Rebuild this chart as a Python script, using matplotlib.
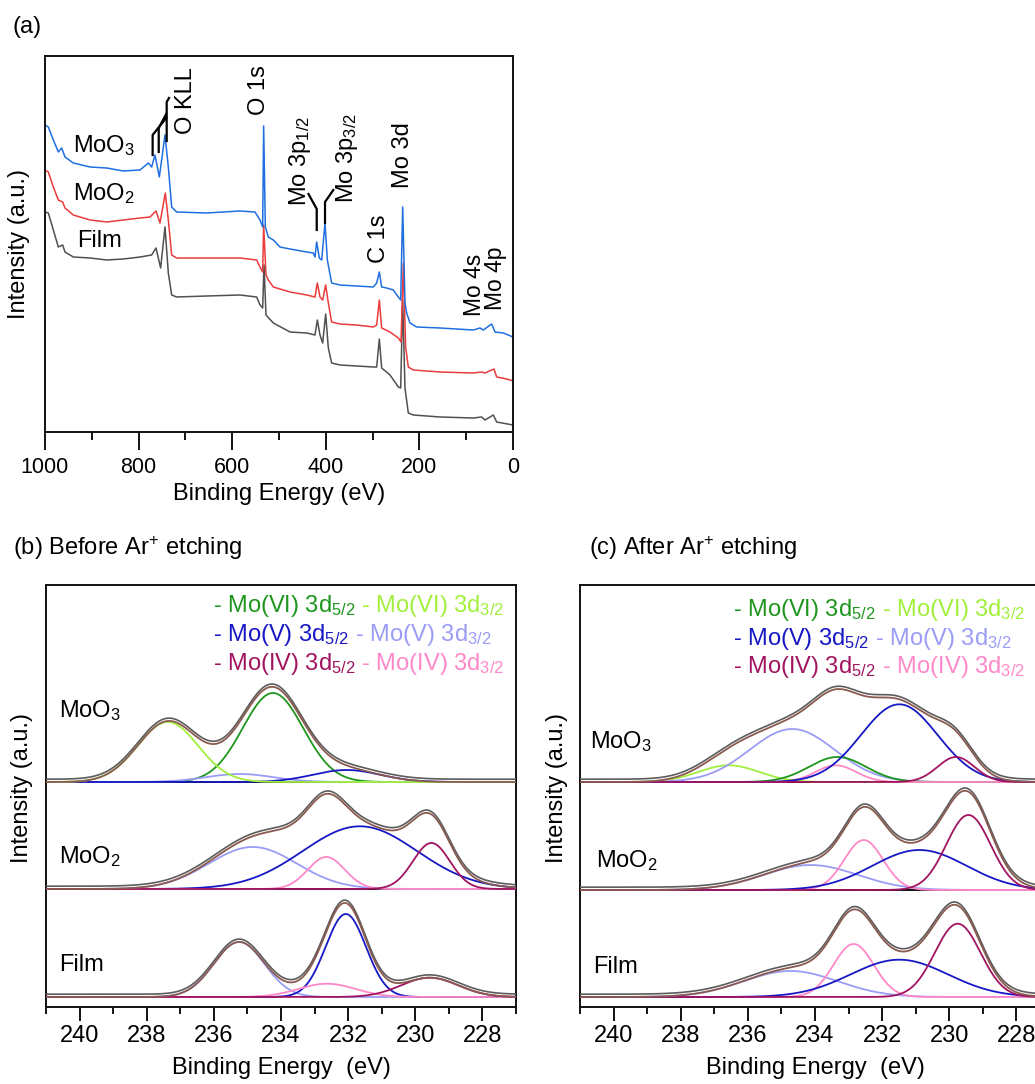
import numpy as np
import matplotlib
matplotlib.use('Agg')
import matplotlib.pyplot as plt
from matplotlib.ticker import MultipleLocator

plt.rcParams['font.family'] = ['Liberation Sans', 'DejaVu Sans']
plt.rcParams['mathtext.fontset'] = 'custom'
plt.rcParams['mathtext.rm'] = 'Liberation Sans'
plt.rcParams['mathtext.it'] = 'Liberation Sans:italic'
plt.rcParams['mathtext.bf'] = 'Liberation Sans:bold'

# ---------------- (a) survey spectra ----------------
survey_e_moo3 = [1000, 992.9, 982.2, 971.5, 964.4, 957.3, 939.5, 903.8, 868.2, 832.6,
                 797.0, 779.2, 772.1, 765.0, 755.7, 743.6, 736.5, 729.3, 718.7, 654.6,
                 583.3, 551.3, 540.6, 534.9, 532.8, 529.2, 522.8, 512.1, 497.9, 476.5,
                 440.9, 426.7, 423.1, 419.5, 413.8, 408.8, 401.7, 396.7, 387.5, 369.7,
                 334.0, 298.4, 291.3, 285.6, 280.6, 269.9, 255.7, 245.0, 240.0, 235.7,
                 230.8, 227.2, 220.1, 205.9, 156.0, 84.8, 70.5, 63.4, 45.6, 38.5,
                 20.7, 0]
survey_i_moo3 = [3.07, 3.05, 2.92, 2.80, 2.84, 2.75, 2.69, 2.65, 2.64, 2.61,
                 2.62, 2.69, 2.65, 2.77, 2.55, 2.97, 2.65, 2.25, 2.20, 2.19,
                 2.21, 2.20, 2.12, 2.05, 3.06, 2.05, 1.95, 1.92, 1.85, 1.83,
                 1.80, 1.79, 1.75, 1.90, 1.74, 1.72, 2.09, 1.72, 1.49, 1.47,
                 1.46, 1.45, 1.49, 1.60, 1.45, 1.44, 1.42, 1.35, 1.32, 2.25,
                 1.29, 1.19, 1.09, 1.05, 1.04, 1.02, 1.04, 1.02, 1.08, 1.00,
                 0.99, 0.95]

survey_e_moo2 = [1000, 992.9, 982.2, 971.5, 962.2, 957.3, 939.5, 903.8, 868.2, 832.6,
                 797.0, 775.6, 762.8, 754.3, 742.9, 736.5, 729.3, 718.7, 654.6, 583.3,
                 547.7, 540.6, 534.9, 532.8, 527.8, 522.8, 512.1, 476.5, 440.9, 423.1,
                 418.1, 412.4, 406.7, 400.3, 394.6, 387.5, 369.7, 334.0, 298.4, 291.3,
                 285.6, 280.6, 262.8, 245.0, 239.3, 234.3, 229.4, 223.7, 213.0, 156.0,
                 84.8, 67.0, 59.8, 40.6, 34.9, 13.5, 0]
survey_i_moo2 = [2.62, 2.60, 2.45, 2.32, 2.30, 2.24, 2.17, 2.12, 2.10, 2.12,
                 2.14, 2.15, 2.21, 2.09, 2.39, 2.12, 1.77, 1.74, 1.74, 1.74,
                 1.72, 1.65, 1.60, 2.07, 1.57, 1.52, 1.45, 1.40, 1.37, 1.35,
                 1.49, 1.35, 1.32, 1.47, 1.29, 1.10, 1.08, 1.07, 1.05, 1.07,
                 1.32, 1.04, 1.00, 0.94, 0.90, 1.69, 0.85, 0.65, 0.62, 0.60,
                 0.59, 0.60, 0.59, 0.63, 0.55, 0.53, 0.51]

survey_e_film = [1000, 992.9, 982.2, 971.5, 962.2, 957.3, 939.5, 903.8, 868.2, 832.6,
                 797.0, 772.1, 762.8, 752.9, 743.6, 736.5, 729.3, 718.7, 654.6, 583.3,
                 547.7, 540.6, 534.9, 532.0, 527.8, 512.1, 476.5, 440.9, 423.1, 418.1,
                 412.4, 406.7, 400.3, 394.6, 387.5, 369.7, 298.4, 291.3, 285.6, 280.6,
                 262.8, 245.0, 240.0, 235.7, 230.8, 223.7, 213.0, 156.0, 84.8, 67.0,
                 59.8, 42.0, 34.9, 0]
survey_i_film = [2.20, 2.19, 2.02, 1.85, 1.87, 1.80, 1.75, 1.74, 1.72, 1.73,
                 1.75, 1.77, 1.84, 1.64, 2.05, 1.59, 1.37, 1.35, 1.36, 1.37,
                 1.35, 1.27, 1.24, 1.67, 1.17, 1.09, 1.00, 0.99, 0.97, 1.12,
                 0.97, 0.89, 1.18, 0.84, 0.69, 0.67, 0.65, 0.65, 0.93, 0.64,
                 0.57, 0.45, 0.44, 1.32, 0.44, 0.19, 0.17, 0.15, 0.14, 0.15,
                 0.12, 0.17, 0.10, 0.07]

survey_labels = ['Film', 'MoO$_2$', 'MoO$_3$']

# ---------------- (b)/(c) Mo 3d fitted components ----------------
# component keys: VI52, VI32, V52, V32, IV52, IV32
before_moo3_comp = ['VI52', 'V32', 'V52', 'VI32']
before_moo3_center = [234.24, 235.23, 232.05, 237.37]
before_moo3_height = [0.89, 0.08, 0.12, 0.60]
before_moo3_sigma = [0.90, 1.00, 1.00, 0.90]

before_moo2_comp = ['V32', 'V52', 'IV32', 'IV52']
before_moo2_center = [234.84, 231.65, 232.65, 229.52]
before_moo2_height = [0.42, 0.627, 0.32, 0.46]
before_moo2_sigma = [1.31, 1.70, 0.55, 0.55]

before_film_comp = ['V32', 'V52', 'IV32', 'IV52']
before_film_center = [235.25, 232.07, 232.63, 229.57]
before_film_height = [0.55, 0.83, 0.133, 0.193]
before_film_sigma = [0.75, 0.60, 0.85, 0.85]

after_moo3_comp = ['VI32', 'V32', 'VI52', 'IV32', 'V52', 'IV52']
after_moo3_center = [236.57, 234.68, 233.33, 233.38, 231.49, 229.80]
after_moo3_height = [0.167, 0.53, 0.25, 0.167, 0.777, 0.25]
after_moo3_sigma = [0.90, 1.27, 0.85, 0.60, 1.14, 0.55]

after_moo2_comp = ['V32', 'IV32', 'V52', 'IV52']
after_moo2_center = [234.13, 232.55, 230.89, 229.43]
after_moo2_height = [0.25, 0.50, 0.40, 0.75]
after_moo2_sigma = [1.40, 0.58, 1.40, 0.66]

after_film_comp = ['V32', 'IV32', 'V52', 'IV52']
after_film_center = [234.73, 232.85, 231.49, 229.75]
after_film_height = [0.26, 0.53, 0.373, 0.733]
after_film_sigma = [1.40, 0.60, 1.45, 0.68]

sample_names = ['MoO$_3$', 'MoO$_2$', 'Film']
legend_left = ['- Mo(VI) 3d$_{5/2}$', '- Mo(V) 3d$_{5/2}$', '- Mo(IV) 3d$_{5/2}$']
legend_right = [' - Mo(VI) 3d$_{3/2}$', ' - Mo(V) 3d$_{3/2}$', ' - Mo(IV) 3d$_{3/2}$']

comp_colors = {'VI52': '#1e961e', 'VI32': '#a0f03c', 'V52': '#1717c4',
               'V32': '#9a9cf6', 'IV52': '#a01460', 'IV32': '#ff88c8'}
legend_left_keys = ['VI52', 'V52', 'IV52']
legend_right_keys = ['VI32', 'V32', 'IV32']

W, H = 1035, 1084
fig = plt.figure(figsize=(W / 100, H / 100), dpi=100)

FS = 17
SPINE_W = 1.4


def style_box(ax):
    for s in ax.spines.values():
        s.set_linewidth(SPINE_W)
        s.set_color('#111111')


# ---------------- panel (a) ----------------
axa = fig.add_axes([45 / W, 1 - 432 / H, 468 / W, 376 / H])
axa.plot(survey_e_film, survey_i_film, color='#505050', lw=1.1)
axa.plot(survey_e_moo2, survey_i_moo2, color='#ea3c3c', lw=1.1)
axa.plot(survey_e_moo3, survey_i_moo3, color='#1f6fe0', lw=1.1)
axa.set_xlim(1000, 0)
axa.set_ylim(0, 3.76)
axa.set_yticks([])
axa.xaxis.set_major_locator(MultipleLocator(200))
axa.xaxis.set_minor_locator(MultipleLocator(100))
axa.tick_params(axis='x', which='major', direction='out', length=13, width=1.3,
                labelsize=15.5, pad=5)
axa.tick_params(axis='x', which='minor', direction='out', length=6, width=1.3)
style_box(axa)
axa.set_xlabel('Binding Energy (eV)', fontsize=FS)
axa.xaxis.set_label_coords(0.5, -0.165)
axa.xaxis.label.set_va('center')
axa.set_ylabel('Intensity (a.u.)', fontsize=FS)
axa.yaxis.set_label_coords(-0.055, 0.5)
axa.yaxis.label.set_va('center')

axa.text(939.5, 2.80, survey_labels[2], fontsize=FS, va='baseline', ha='left')
axa.text(939.5, 2.32, survey_labels[1], fontsize=FS, va='baseline', ha='left')
axa.text(932.3, 1.85, survey_labels[0], fontsize=FS, va='baseline', ha='left')

# O KLL bracket
lk = dict(color='black', lw=1.6, solid_joinstyle='miter')
axa.plot([770, 770, 741], [2.77, 2.97, 3.14], **lk)
axa.plot([757, 757, 741], [2.80, 3.04, 3.18], **lk)
axa.plot([740, 740, 735], [2.91, 3.30, 3.34], **lk)
# Mo 3p brackets
axa.plot([419.4, 419.4, 437.0], [2.02, 2.23, 2.38], **lk)
axa.plot([401.7, 401.7, 383.9], [2.09, 2.30, 2.42], **lk)

ann = dict(fontsize=FS, rotation=90, ha='center', va='bottom', rotation_mode='default')
axa.text(698.7, 2.98, 'O KLL', **ann)
axa.text(542.7, 3.17, 'O 1s', **ann)
axa.text(456.0, 2.26, 'Mo 3p$_{1/2}$', **ann)
axa.text(354.7, 2.29, 'Mo 3p$_{3/2}$', **ann)
axa.text(286.3, 1.69, 'C 1s', **ann)
axa.text(236.1, 2.44, 'Mo 3d', **ann)
axa.text(83.0, 1.16, 'Mo 4s', fontsize=16.5, rotation=90, ha='center', va='bottom')
axa.text(37.0, 1.22, 'Mo 4p', fontsize=16.5, rotation=90, ha='center', va='bottom')

fig.text(13 / W, 1 - 33 / H, '(a)', fontsize=FS, va='baseline', ha='left')
fig.text(13 / W, 1 - 555 / H, '(b) Before Ar$^{+}$ etching', fontsize=FS,
         va='baseline', ha='left')
fig.text(589 / W, 1 - 555 / H, '(c) After Ar$^{+}$ etching', fontsize=FS,
         va='baseline', ha='left')

# ---------------- panels (b) and (c) ----------------
E = np.linspace(241, 227, 700)


def gauss(x, c, h, s):
    return h * np.exp(-(x - c) ** 2 / (2 * s ** 2))


def draw_sample(ax, comps, centers, heights, sigmas, base):
    env = np.zeros_like(E)
    for k, c, h, s in zip(comps, centers, heights, sigmas):
        env += gauss(E, c, h, s)
    for k, c, h, s in zip(comps, centers, heights, sigmas):
        ax.plot(E, base + gauss(E, c, h, s), color=comp_colors[k], lw=1.3, zorder=3)
    ax.plot(E, base + env + 0.028, color='#5c5c5c', lw=1.2, zorder=4)
    ax.plot(E, base + env, color='#8a5a50', lw=1.3, zorder=5)


def setup_xps_axis(ax, seps):
    ax.set_xlim(241, 227)
    ax.set_ylim(0, 4.22)
    ax.set_yticks([])
    ax.xaxis.set_major_locator(MultipleLocator(2))
    ax.xaxis.set_minor_locator(MultipleLocator(1))
    ax.tick_params(axis='x', which='major', direction='out', length=10, width=1.3,
                   labelsize=FS, pad=3)
    ax.tick_params(axis='x', which='minor', direction='out', length=5, width=1.3)
    style_box(ax)
    for y in seps:
        ax.axhline(y, color='#111111', lw=SPINE_W, zorder=2)
    ax.set_xlabel('Binding Energy  (eV)', fontsize=FS)
    ax.xaxis.set_label_coords(0.5, -0.145)
    ax.xaxis.label.set_va('center')
    ax.set_ylabel('Intensity (a.u.)', fontsize=FS)
    ax.yaxis.label.set_va('center')


def draw_legend(ax, x0, ys):
    for i in range(3):
        t1 = ax.text(x0, ys[i], legend_left[i], fontsize=FS,
                     color=comp_colors[legend_left_keys[i]],
                     ha='left', va='bottom', zorder=6)
        ax.annotate(legend_right[i], xy=(1, 0), xycoords=t1, fontsize=FS,
                    color=comp_colors[legend_right_keys[i]], ha='left', va='bottom', zorder=6)


axb = fig.add_axes([46 / W, 1 - 1007 / H, 470 / W, 422 / H])
setup_xps_axis(axb, [1.18, 2.25])
axb.yaxis.set_label_coords(-0.052, 0.52)
draw_sample(axb, before_film_comp, before_film_center, before_film_height, before_film_sigma, 0.10)
draw_sample(axb, before_moo2_comp, before_moo2_center, before_moo2_height, before_moo2_sigma, 1.18)
draw_sample(axb, before_moo3_comp, before_moo3_center, before_moo3_height, before_moo3_sigma, 2.25)
axb.text(240.61, 2.90, sample_names[0], fontsize=FS, va='baseline', ha='left')
axb.text(240.61, 1.44, sample_names[1], fontsize=FS, va='baseline', ha='left')
axb.text(240.61, 0.36, sample_names[2], fontsize=FS, va='baseline', ha='left')
draw_legend(axb, 236.03, [3.88, 3.59, 3.30])

axc = fig.add_axes([580 / W, 1 - 1007 / H, 470 / W, 422 / H])
setup_xps_axis(axc, [1.17, 2.25])
axc.yaxis.set_label_coords(-0.049, 0.52)
draw_sample(axc, after_film_comp, after_film_center, after_film_height, after_film_sigma, 0.10)
draw_sample(axc, after_moo2_comp, after_moo2_center, after_moo2_height, after_moo2_sigma, 1.17)
draw_sample(axc, after_moo3_comp, after_moo3_center, after_moo3_height, after_moo3_sigma, 2.25)
axc.text(240.70, 2.59, sample_names[0], fontsize=FS, va='baseline', ha='left')
axc.text(240.52, 1.40, sample_names[1], fontsize=FS, va='baseline', ha='left')
axc.text(240.61, 0.34, sample_names[2], fontsize=FS, va='baseline', ha='left')
draw_legend(axc, 236.44, [3.84, 3.55, 3.27])

fig.savefig('out.png', dpi=100)
